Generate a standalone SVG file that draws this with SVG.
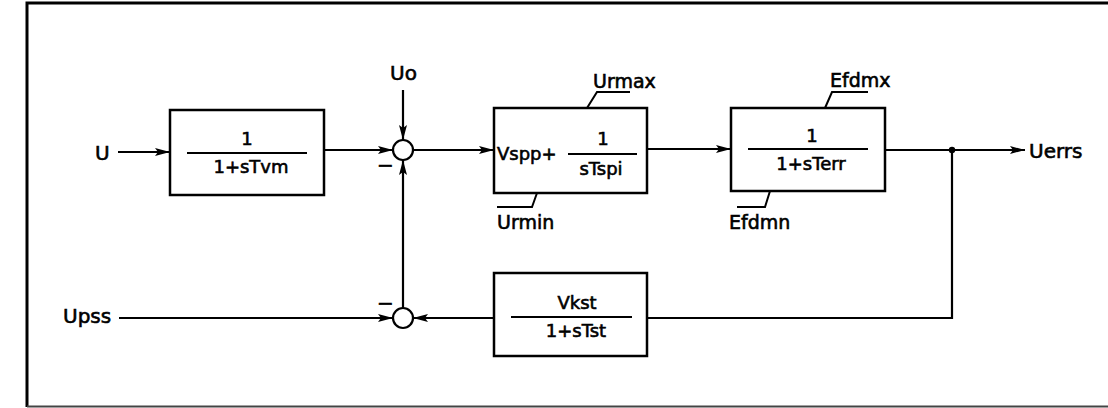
<svg xmlns="http://www.w3.org/2000/svg" width="1108" height="408" viewBox="0 0 1108 408">
<style>
.t{font-family:"DejaVu Sans",sans-serif;font-size:19px;fill:#000;stroke:#000;stroke-width:0.6}
.lbl{font-size:20px}
.in{font-size:18px}
.m{text-anchor:middle}
.box{fill:none;stroke:#000;stroke-width:2.5}
.ln{fill:none;stroke:#000;stroke-width:2.2}
.lim{fill:none;stroke:#000;stroke-width:2}
.sum{fill:#fff;stroke:#000;stroke-width:2.2}
</style>
<defs>
<marker id="ah" markerUnits="userSpaceOnUse" markerWidth="16" markerHeight="10" refX="15" refY="4.5" orient="auto">
<path d="M0,0.5 L15,4.5 L0,8.5 L3,4.5 z" fill="#000"/>
</marker>
</defs>
<g id="frame">
<path d="M27,407 L27,3 L1108,3" fill="none" stroke="#000" stroke-width="3"/>
<line x1="27" y1="406.5" x2="1108" y2="406.5" stroke="#444" stroke-width="2"/>
</g>
<g id="connectors">
<line class="ln" x1="118" y1="152" x2="170" y2="152" marker-end="url(#ah)"/>
<line class="ln" x1="324" y1="150" x2="393" y2="150" marker-end="url(#ah)"/>
<line class="ln" x1="403" y1="90" x2="403" y2="140" marker-end="url(#ah)"/>
<line class="ln" x1="413" y1="150" x2="494" y2="150" marker-end="url(#ah)"/>
<line class="ln" x1="647" y1="149" x2="731" y2="149" marker-end="url(#ah)"/>
<line class="ln" x1="885" y1="150" x2="1025" y2="150" marker-end="url(#ah)"/>
<polyline class="ln" points="952,150 952,318 647,318"/>
<line class="ln" x1="494" y1="318" x2="413" y2="318" marker-end="url(#ah)"/>
<line class="ln" x1="119" y1="318" x2="393" y2="318" marker-end="url(#ah)"/>
<line class="ln" x1="403" y1="308" x2="403" y2="160" marker-end="url(#ah)"/>
<circle cx="952" cy="150" r="3.2" fill="#000"/>
</g>
<g id="in_U"><text class="t lbl" x="95" y="160">U</text></g>
<g id="in_Uo"><text class="t lbl" x="390" y="80">Uo</text></g>
<g id="in_Upss"><text class="t lbl" x="63" y="323">Upss</text></g>
<g id="out_Uerrs"><text class="t lbl" x="1029" y="158">Uerrs</text></g>
<g id="block_Tvm">
<rect class="box" x="170" y="110" width="154" height="85"/>
<line class="ln" x1="187" y1="153" x2="307" y2="153"/>
<text class="t in m" x="247" y="145">1</text>
<text class="t in m" x="251" y="173">1+sTvm</text>
</g>
<g id="sum1">
<circle class="sum" cx="403" cy="150" r="10"/>
<text class="t m" x="385.5" y="171.5" style="font-size:20px">−</text>
</g>
<g id="sum2">
<circle class="sum" cx="403" cy="318" r="10"/>
<text class="t m" x="385.5" y="309.5" style="font-size:20px">−</text>
</g>
<g id="block_Tspi">
<rect class="box" x="494" y="108" width="153" height="85"/>
<text class="t in" x="497" y="160">Vspp+</text>
<line class="ln" x1="568" y1="154" x2="637" y2="154"/>
<text class="t in m" x="603" y="145">1</text>
<text class="t in m" x="601" y="175">sTspi</text>
<polyline class="lim" points="587,108 597,92 630,92"/>
<text class="t" x="593" y="88">Urmax</text>
<polyline class="lim" points="537,193 532,207 497,207"/>
<text class="t" x="497" y="229">Urmin</text>
</g>
<g id="block_Terr">
<rect class="box" x="731" y="108" width="154" height="83"/>
<line class="ln" x1="748" y1="149" x2="868" y2="149"/>
<text class="t in m" x="812" y="142">1</text>
<text class="t in m" x="811" y="170">1+sTerr</text>
<polyline class="lim" points="825,108 832,92 868,92"/>
<text class="t" x="830" y="87">Efdmx</text>
<polyline class="lim" points="770,191 765,207 737,207"/>
<text class="t" x="729" y="229">Efdmn</text>
</g>
<g id="block_Tst">
<rect class="box" x="494" y="273" width="153" height="83"/>
<line class="ln" x1="511" y1="317" x2="632" y2="317"/>
<text class="t in m" x="577" y="309">Vkst</text>
<text class="t in m" x="576" y="337">1+sTst</text>
</g>
</svg>
